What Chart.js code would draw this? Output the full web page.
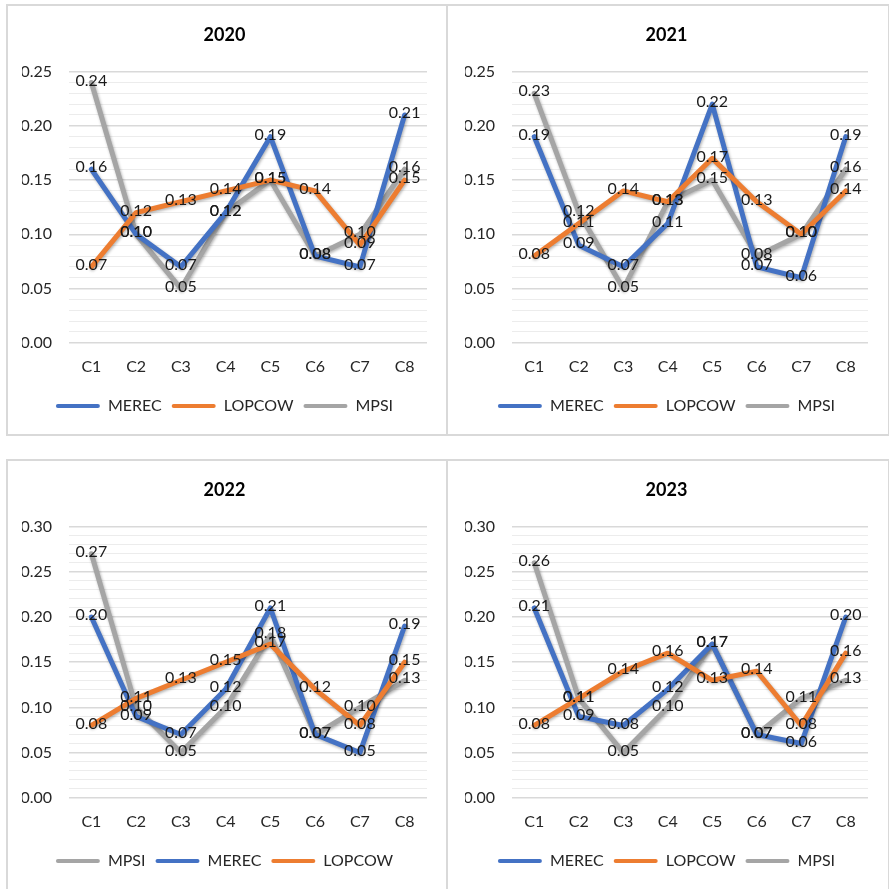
<!DOCTYPE html>
<html>
<head>
<meta charset="utf-8">
<script src="https://cdn.jsdelivr.net/npm/chart.js@4.4.0/dist/chart.umd.min.js"></script>
<style>
body { margin: 0; background: #fff; width: 889px; height: 889px; overflow: hidden; position: relative; }
.box { position: absolute; box-sizing: border-box; border: 2px solid #d9d9d9; }
canvas { position: absolute; }
</style>
</head>
<body>
<div class="box" style="left:6px;top:4px;width:442px;height:432px"></div>
<div class="box" style="left:446px;top:4px;width:444px;height:432px"></div>
<div class="box" style="left:6px;top:459px;width:442px;height:440px"></div>
<div class="box" style="left:446px;top:459px;width:444px;height:440px"></div>
<canvas id="c2020" width="440" height="430" style="left:7px;top:5px"></canvas>
<canvas id="c2021" width="441" height="430" style="left:447px;top:5px"></canvas>
<canvas id="c2022" width="440" height="430" style="left:7px;top:460px"></canvas>
<canvas id="c2023" width="441" height="430" style="left:447px;top:460px"></canvas>
<script>
var categories = ["C1", "C2", "C3", "C4", "C5", "C6", "C7", "C8"];

var merec2020 = [0.16, 0.10, 0.07, 0.12, 0.19, 0.08, 0.07, 0.21];
var lopcow2020 = [0.07, 0.12, 0.13, 0.14, 0.15, 0.14, 0.09, 0.15];
var mpsi2020 = [0.24, 0.10, 0.05, 0.12, 0.15, 0.08, 0.10, 0.16];

var merec2021 = [0.19, 0.09, 0.07, 0.11, 0.22, 0.07, 0.06, 0.19];
var lopcow2021 = [0.08, 0.11, 0.14, 0.13, 0.17, 0.13, 0.10, 0.14];
var mpsi2021 = [0.23, 0.12, 0.05, 0.13, 0.15, 0.08, 0.10, 0.16];

var merec2022 = [0.20, 0.09, 0.07, 0.12, 0.21, 0.07, 0.05, 0.19];
var lopcow2022 = [0.08, 0.11, 0.13, 0.15, 0.17, 0.12, 0.08, 0.15];
var mpsi2022 = [0.27, 0.10, 0.05, 0.10, 0.18, 0.07, 0.10, 0.13];

var merec2023 = [0.21, 0.09, 0.08, 0.12, 0.17, 0.07, 0.06, 0.20];
var lopcow2023 = [0.08, 0.11, 0.14, 0.16, 0.13, 0.14, 0.08, 0.16];
var mpsi2023 = [0.26, 0.11, 0.05, 0.10, 0.17, 0.07, 0.11, 0.13];

var colors = { MEREC: '#4472C4', LOPCOW: '#ED7D31', MPSI: '#A5A5A5' };
// orange drawn on top, gray at the bottom
var drawOrder = { LOPCOW: 0, MEREC: 1, MPSI: 2 };

var font = "Lato, 'Open Sans', sans-serif";

// soft shadow under each line
var lineShadow = {
    id: 'lineShadow',
    beforeDatasetDraw: function (chart) {
        var ctx = chart.ctx;
        ctx.save();
        ctx.shadowColor = 'rgba(0,0,0,0.3)';
        ctx.shadowBlur = 3;
        ctx.shadowOffsetX = 1;
        ctx.shadowOffsetY = 1.5;
    },
    afterDatasetDraw: function (chart) {
        chart.ctx.restore();
    }
};

// value labels centred on each point
var pointLabels = {
    id: 'pointLabels',
    afterDatasetsDraw: function (chart) {
        var ctx = chart.ctx;
        ctx.save();
        ctx.font = '16px ' + font;
        ctx.fillStyle = '#1a1a1a';
        ctx.textAlign = 'center';
        ctx.textBaseline = 'middle';
        chart.data.datasets.forEach(function (ds, i) {
            var meta = chart.getDatasetMeta(i);
            meta.data.forEach(function (pt, j) {
                ctx.fillText(ds.data[j].toFixed(2), pt.x, pt.y - 2);
            });
        });
        ctx.restore();
    }
};

function makeChart(id, title, yMax, padLeft, series) {
    var ctx = document.getElementById(id).getContext('2d');
    return new Chart(ctx, {
        type: 'line',
        data: {
            labels: categories,
            datasets: series.map(function (s) {
                return {
                    label: s.name,
                    data: s.data,
                    borderColor: colors[s.name],
                    backgroundColor: colors[s.name],
                    borderWidth: 5,
                    borderCapStyle: 'round',
                    borderJoinStyle: 'round',
                    pointRadius: 0,
                    tension: 0,
                    fill: false,
                    order: drawOrder[s.name]
                };
            })
        },
        options: {
            responsive: false,
            animation: false,
            layout: { padding: { left: padLeft, right: 20, top: 8, bottom: 11 } },
            plugins: {
                tooltip: { enabled: false },
                title: {
                    display: true,
                    text: title,
                    color: '#000',
                    font: { family: font, size: 18, weight: 'bold' },
                    padding: { top: 11, bottom: 26 }
                },
                legend: {
                    position: 'bottom',
                    labels: {
                        boxWidth: 44,
                        boxHeight: 4,
                        padding: 10,
                        color: '#262626',
                        font: { family: font, size: 16 },
                        sort: function (a, b) { return a.datasetIndex - b.datasetIndex; },
                        generateLabels: function (chart) {
                            var items = Chart.defaults.plugins.legend.labels.generateLabels(chart);
                            items.forEach(function (it) {
                                it.fillStyle = it.strokeStyle;
                                it.lineWidth = 0;
                                it.borderRadius = 2;
                            });
                            return items;
                        }
                    }
                }
            },
            scales: {
                x: {
                    offset: true,
                    grid: { display: false, drawTicks: false },
                    border: { display: false },
                    ticks: { color: '#262626', font: { family: font, size: 16 }, padding: 14 },
                    afterFit: function (scale) { scale.height -= 2; }
                },
                y: {
                    min: 0,
                    max: yMax,
                    grid: {
                        drawTicks: false,
                        color: function (c) {
                            return Math.round(c.tick.value * 100) % 5 === 0 ? '#d9d9d9' : '#ececec';
                        },
                        lineWidth: function (c) {
                            return Math.round(c.tick.value * 100) % 5 === 0 ? 1.5 : 1;
                        }
                    },
                    border: { display: false },
                    ticks: {
                        stepSize: 0.01,
                        autoSkip: false,
                        padding: 17,
                        color: '#262626',
                        font: { family: font, size: 16 },
                        callback: function (v) {
                            return Math.round(v * 100) % 5 === 0 ? v.toFixed(2) : '';
                        }
                    },
                    afterFit: function (scale) { scale.width = 47; }
                }
            }
        },
        plugins: [lineShadow, pointLabels]
    });
}

makeChart('c2020', '2020', 0.25, 15, [
    { name: 'MEREC', data: merec2020 },
    { name: 'LOPCOW', data: lopcow2020 },
    { name: 'MPSI', data: mpsi2020 }
]);
makeChart('c2021', '2021', 0.25, 18, [
    { name: 'MEREC', data: merec2021 },
    { name: 'LOPCOW', data: lopcow2021 },
    { name: 'MPSI', data: mpsi2021 }
]);
makeChart('c2022', '2022', 0.30, 15, [
    { name: 'MPSI', data: mpsi2022 },
    { name: 'MEREC', data: merec2022 },
    { name: 'LOPCOW', data: lopcow2022 }
]);
makeChart('c2023', '2023', 0.30, 18, [
    { name: 'MEREC', data: merec2023 },
    { name: 'LOPCOW', data: lopcow2023 },
    { name: 'MPSI', data: mpsi2023 }
]);
</script>
</body>
</html>
